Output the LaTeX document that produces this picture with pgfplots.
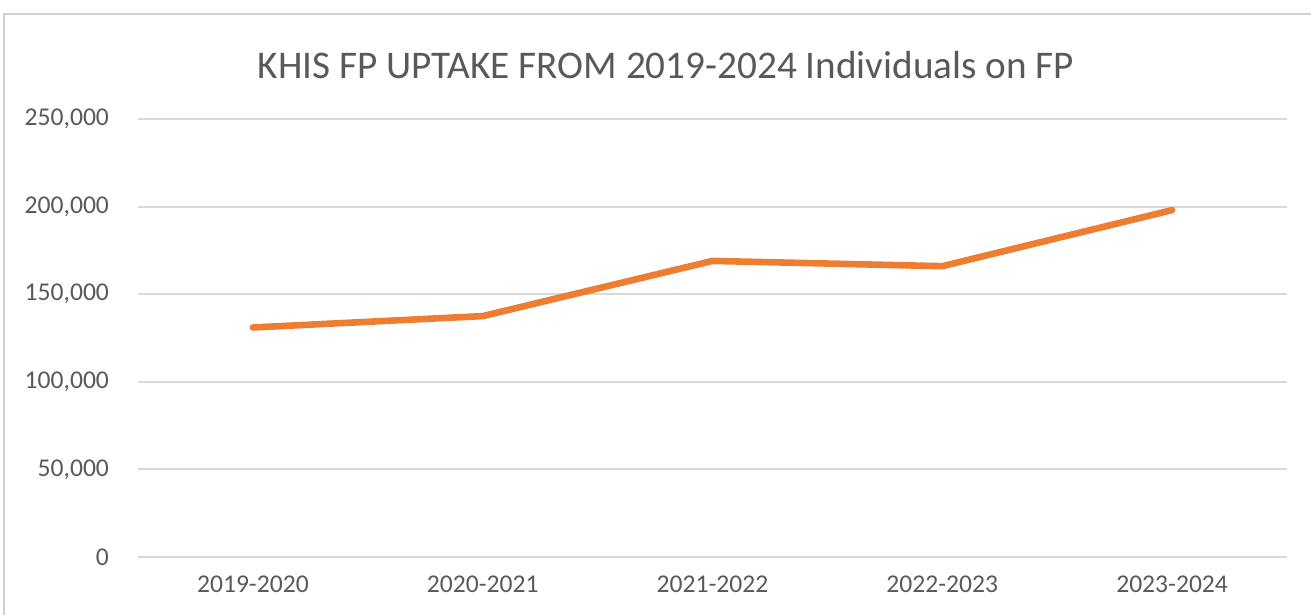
\documentclass[border=0pt]{standalone}
\usepackage{fontspec}
\setmainfont{Carlito}
\usepackage{pgfplots}
\pgfplotsset{compat=1.18}
\definecolor{cline}{HTML}{ED7D31}
\definecolor{cgrid}{HTML}{D9D9D9}
\definecolor{ctext}{HTML}{595959}
\definecolor{cframe}{HTML}{D0D0D0}

\begin{document}
\begin{tikzpicture}
% picture is 1311x615 px at 0.5pt per px; axis box corner sits at px (138,557)
\useasboundingbox (-69pt,-29pt) rectangle (586.5pt,278.5pt);
\draw[cframe, line width=1pt] (-67pt,-40pt) rectangle (600pt,271.5pt);

\begin{axis}[
  at={(0,0)}, anchor=south west,
  scale only axis,
  width=574.5pt, height=219pt,
  xmin=-0.5, xmax=4.5,
  ymin=0, ymax=250000,
  xtick={0,1,2,3,4},
  xticklabels={2019-2020, 2020-2021, 2021-2022, 2022-2023, 2023-2024},
  ytick={0,50000,100000,150000,200000,250000},
  axis line style={draw=none},
  major tick length=0pt,
  ymajorgrids,
  grid style={cgrid, line width=1pt},
  tick label style={font=\fontsize{12.8}{14}\selectfont, text=ctext},
  yticklabel style={xshift=-11pt},
  xticklabel style={yshift=-6pt},
  scaled y ticks=false,
  /pgf/number format/.cd, fixed, 1000 sep={,}, assume math mode=true,
]
\addplot[cline, line width=3.3pt, line cap=round, line join=round] coordinates {
  (0,131000) (1,137500) (2,169000) (3,166000) (4,198000)
};
\end{axis}

\node[text=ctext, font=\fontsize{19.6}{22}\selectfont] at (264pt,246pt)
  {KHIS FP UPTAKE FROM 2019-2024 Individuals on FP};
\end{tikzpicture}
\end{document}
